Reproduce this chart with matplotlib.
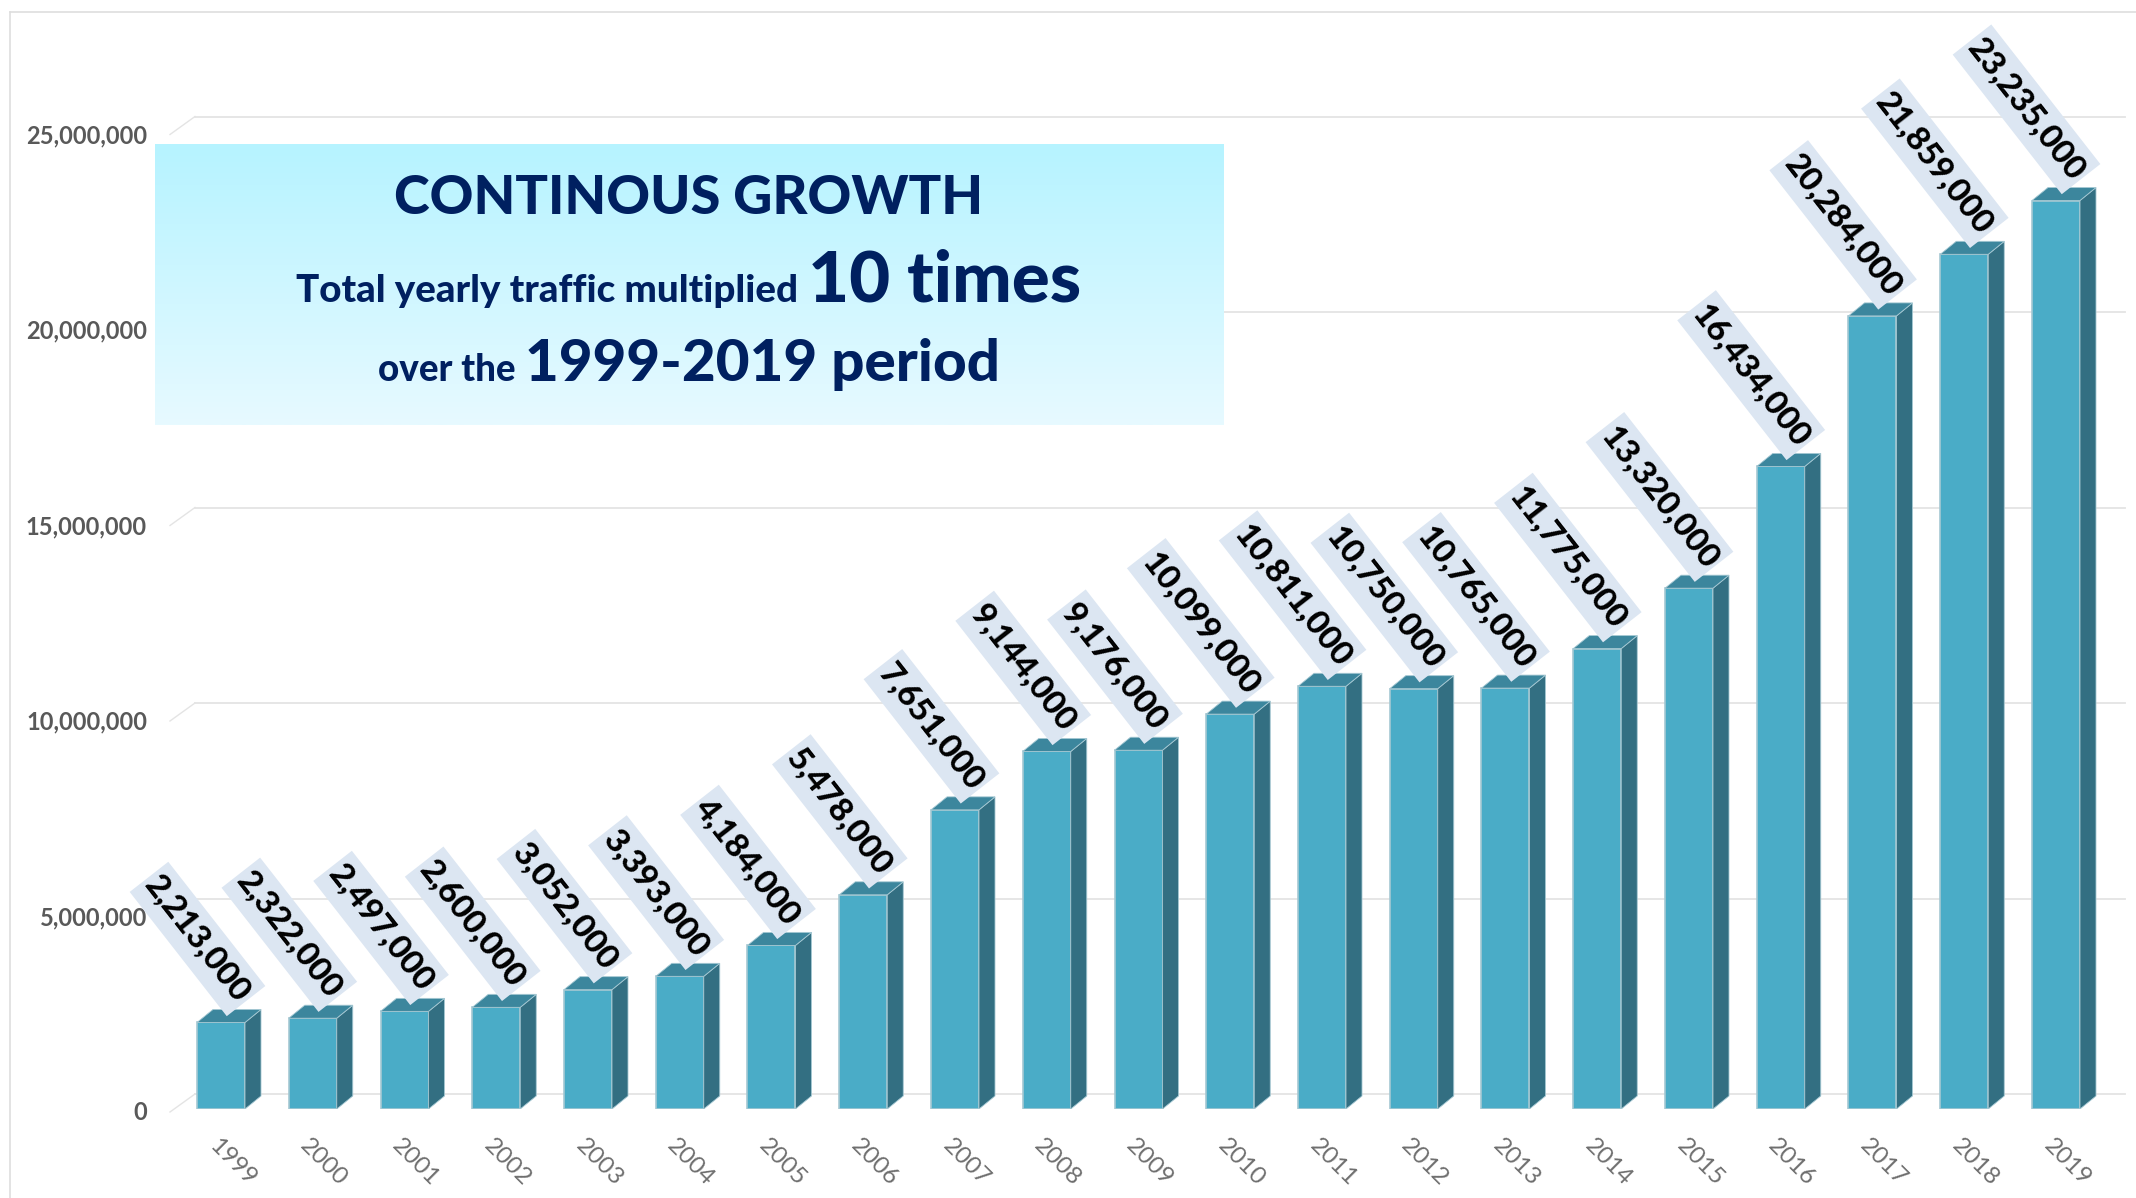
# -*- coding: utf-8 -*-
import numpy as np
import matplotlib
matplotlib.use('Agg')
import matplotlib.pyplot as plt
from matplotlib.lines import Line2D
from matplotlib.patches import Polygon
from matplotlib.transforms import ScaledTranslation

plt.rcParams['font.family'] = ['Lato', 'DejaVu Sans']

years = [str(y) for y in range(1999, 2020)]
traffic = [2213000, 2322000, 2497000, 2600000, 3052000, 3393000, 4184000,
           5478000, 7651000, 9144000, 9176000, 10099000, 10811000, 10750000,
           10765000, 11775000, 13320000, 16434000, 20284000, 21859000, 23235000]
yticks = [0, 5000000, 10000000, 15000000, 20000000, 25000000]

W, H = 2136, 1198
DPI = 100
step_px = 91.75
y_px = 39.1 / 1e6     # pixels per passenger
first_px = 221
base_px = 1109
left_px, right_px, top_px = 170, 2125, 18

NAVY = '#002060'
FRONT = '#4aacc7'
SIDE = '#336f82'
TOP = '#3c869d'
EDGE = '#a5c8d3'
GRID = '#e4e4e4'

fig = plt.figure(figsize=(W / DPI, H / DPI), dpi=DPI, facecolor='white')
ax = fig.add_axes([left_px / W, 1 - base_px / H, (right_px - left_px) / W, (base_px - top_px) / H])
ax.set_xlim((left_px - first_px) / step_px, (right_px - first_px) / step_px)
ax.set_ylim(0, (base_px - top_px) / y_px)
for s in ax.spines.values():
    s.set_visible(False)

x = np.arange(len(years))
bar_w = 48 / step_px
dx = 16 / step_px
dy = 13 / y_px

# back plane gridlines with the little slanted piece on the left
grid_dy = 15 / y_px
grid_x0 = (195 - first_px) / step_px
for v in yticks:
    ax.plot([grid_x0, ax.get_xlim()[1]], [v + grid_dy, v + grid_dy], color=GRID, lw=1.3, zorder=1, clip_on=False)
    ax.plot([ax.get_xlim()[0], grid_x0], [v - 3 / y_px, v + grid_dy], color=GRID, lw=1.0, zorder=1, clip_on=False)

ax.bar(x, traffic, width=bar_w, color=FRONT, edgecolor=EDGE, linewidth=1.2, zorder=3)
for xi, v in zip(x, traffic):
    l, r = xi - bar_w / 2, xi + bar_w / 2
    ax.add_patch(Polygon([(r, 0), (r + dx, dy), (r + dx, v + dy), (r, v)], facecolor=SIDE, edgecolor=EDGE, lw=0.6, zorder=3))
    ax.add_patch(Polygon([(l, v), (r, v), (r + dx, v + dy), (l + dx, v + dy)], facecolor=TOP, edgecolor=EDGE, lw=0.6, zorder=3))

# value labels, anchored at their lower end
for xi, v in zip(x, traffic):
    ax.annotate(f'{v:,}', xy=(xi, v), xytext=(23 * 0.72, 24 * 0.72), textcoords='offset points',
                rotation=-52, rotation_mode='anchor', ha='right', va='center',
                fontsize=24, fontweight='black', color='black', zorder=5,
                annotation_clip=False,
                bbox=dict(boxstyle='square,pad=0.1', mutation_aspect=3.0, facecolor='#dce6f2', edgecolor='none'))

ax.set_yticks(yticks)
ax.set_yticklabels([f'{v:,}' for v in yticks], fontsize=17, fontweight='bold', color='#595959')
ax.tick_params(axis='y', length=0, pad=23 * 0.72)
for lab in ax.get_yticklabels():
    lab.set_transform(lab.get_transform() + ScaledTranslation(0, -2 / DPI, fig.dpi_scale_trans))

ax.set_xticks(x)
ax.set_xticklabels(years, rotation=-45, ha='center', fontsize=17.5, color='#6e6e6e')
ax.tick_params(axis='x', length=0, pad=26 * 0.72)
for lab in ax.get_xticklabels():
    lab.set_transform(lab.get_transform() + ScaledTranslation(11 / DPI, 0, fig.dpi_scale_trans))

# frame of the slide
fig.add_artist(Line2D([10 / W, 10 / W], [0, 1 - 12 / H], color='#dedede', lw=1.2))
fig.add_artist(Line2D([10 / W, 1], [1 - 12 / H, 1 - 12 / H], color='#dedede', lw=1.2))

# headline box with the vertical gradient
box = fig.add_axes([155 / W, 1 - 425 / H, (1224 - 155) / W, (425 - 144) / H], zorder=4)
box.axis('off')
grad = np.linspace(0, 1, 256).reshape(-1, 1)
c0 = np.array([0xb6, 0xf3, 0xff]) / 255
c1 = np.array([0xe7, 0xfa, 0xff]) / 255
box.imshow(c0 + (c1 - c0) * grad[:, :, None], aspect='auto', extent=(155, 1224, 425, 144))
box.set_xlim(155, 1224)
box.set_ylim(425, 144)

renderer = fig.canvas.get_renderer()


def mixed_line(parts, cx, baseline):
    '''parts is a list of (text, size), drawn side by side on one baseline'''
    items = [box.text(0, baseline, t, fontsize=s, fontweight='black', color=NAVY, va='baseline', ha='left')
             for t, s in parts]
    widths = [i.get_window_extent(renderer).width for i in items]
    gap = 10
    pos = cx - (sum(widths) + gap * (len(items) - 1)) / 2
    for i, w in zip(items, widths):
        i.set_x(pos)
        pos += w + gap


mixed_line([('CONTINOUS GROWTH', 39)], 689, 214)
mixed_line([('Total yearly traffic multiplied', 27.7), ('10 times', 51)], 689, 302)
mixed_line([('over the', 26.5), ('1999-2019 period', 42)], 689, 381)

fig.savefig('out.png', dpi=DPI)
